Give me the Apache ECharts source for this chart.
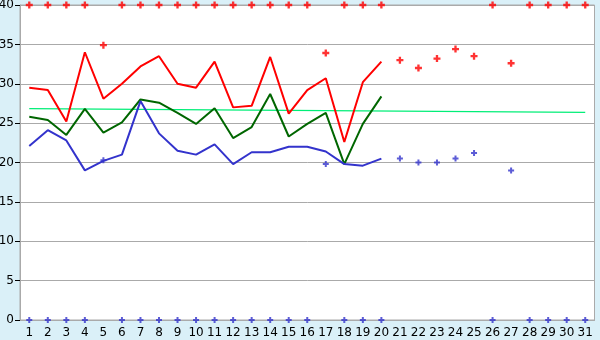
<!DOCTYPE html>
<html><head><meta charset="utf-8">
<script src="https://cdn.jsdelivr.net/npm/echarts@6/dist/echarts.min.js"></script>
<style>html,body{margin:0;padding:0;background:#daf0f8;}#c{width:600px;height:340px;}</style>
</head><body><div id="c"></div>
<script>
const days = ['1','2','3','4','5','6','7','8','9','10','11','12','13','14','15','16','17','18','19','20','21','22','23','24','25','26','27','28','29','30','31'];
const maxLine = [29.5,29.2,25.2,34.0,28.1,30.0,32.2,33.5,30.0,29.5,32.8,27.0,27.2,33.4,26.2,29.2,30.7,22.6,30.2,32.8,null,null,null,null,null,null,null,null,null,null,null];
const meanLine = [25.8,25.4,23.5,26.8,23.8,25.1,28.0,27.6,26.3,24.9,26.9,23.1,24.5,28.7,23.3,24.9,26.3,19.8,24.9,28.4,null,null,null,null,null,null,null,null,null,null,null];
const minLine = [22.1,24.1,22.8,19.0,20.2,21.0,27.8,23.7,21.5,21.0,22.3,19.8,21.3,21.3,22.0,22.0,21.4,19.8,19.6,20.5,null,null,null,null,null,null,null,null,null,null,null];
const trendLine = [26.85,null,null,null,null,null,null,null,null,null,null,null,null,null,null,null,null,null,null,null,null,null,null,null,null,null,null,null,null,null,26.37];
const maxPoints = [40,40,40,40,34.9,40,40,40,40,40,40,40,40,40,40,40,33.9,40,40,40,33.0,32.0,33.2,34.4,33.5,40,32.6,40,40,40,40];
const minPoints = [0,0,0,0,20.3,0,0,0,0,0,0,0,0,0,0,0,19.8,0,0,0,20.5,20.0,20.0,20.5,21.2,0,19.0,0,0,0,0];
const yTicks = [0,5,10,15,20,25,30,35,40];

const plus = 'path://M2,0H4V2H6V4H4V6H2V4H0V2H2Z';
const chart = echarts.init(document.getElementById('c'));
chart.setOption({
  backgroundColor: '#daf0f8',
  animation: false,
  grid: {left: 20, right: 5.5, top: 5, bottom: 20, outerBoundsMode: 'none', containLabel: false, show: true, backgroundColor: '#ffffff', borderColor: '#aaaaaa', borderWidth: 1},
  xAxis: {
    type: 'category', data: days, boundaryGap: true,
    axisLine: {lineStyle: {color: '#aaaaaa', width: 1}},
    axisTick: {alignWithLabel: true, length: 5, lineStyle: {color: '#000'}},
    axisLabel: {color: '#000', fontFamily: 'DejaVu Sans', fontSize: 12, margin: 7, interval: 0},
    splitLine: {show: false}
  },
  yAxis: {
    type: 'value', min: yTicks[0], max: yTicks[yTicks.length-1], interval: 5,
    axisLine: {show: true, lineStyle: {color: '#aaaaaa'}},
    axisTick: {show: true, length: 5, lineStyle: {color: '#000'}},
    axisLabel: {color: '#000', fontFamily: 'DejaVu Sans', fontSize: 12, margin: 6},
    splitLine: {lineStyle: {color: '#aaaaaa', width: 1}}
  },
  series: [
    {type: 'line', data: trendLine, connectNulls: true, showSymbol: false, lineStyle: {color: '#00ee77', width: 1.2}, z: 1},
    {type: 'line', data: maxLine, showSymbol: false, lineStyle: {color: '#ff0000', width: 2}, z: 3},
    {type: 'line', data: meanLine, showSymbol: false, lineStyle: {color: '#006600', width: 2}, z: 3},
    {type: 'line', data: minLine, showSymbol: false, lineStyle: {color: '#3333cc', width: 2}, z: 3},
    {type: 'scatter', data: maxPoints, symbol: plus, symbolSize: 7, itemStyle: {color: '#ff0000'}, z: 4},
    {type: 'scatter', data: minPoints, symbol: plus, symbolSize: 6, itemStyle: {color: '#3333cc'}, z: 4}
  ]
});
</script></body></html>
